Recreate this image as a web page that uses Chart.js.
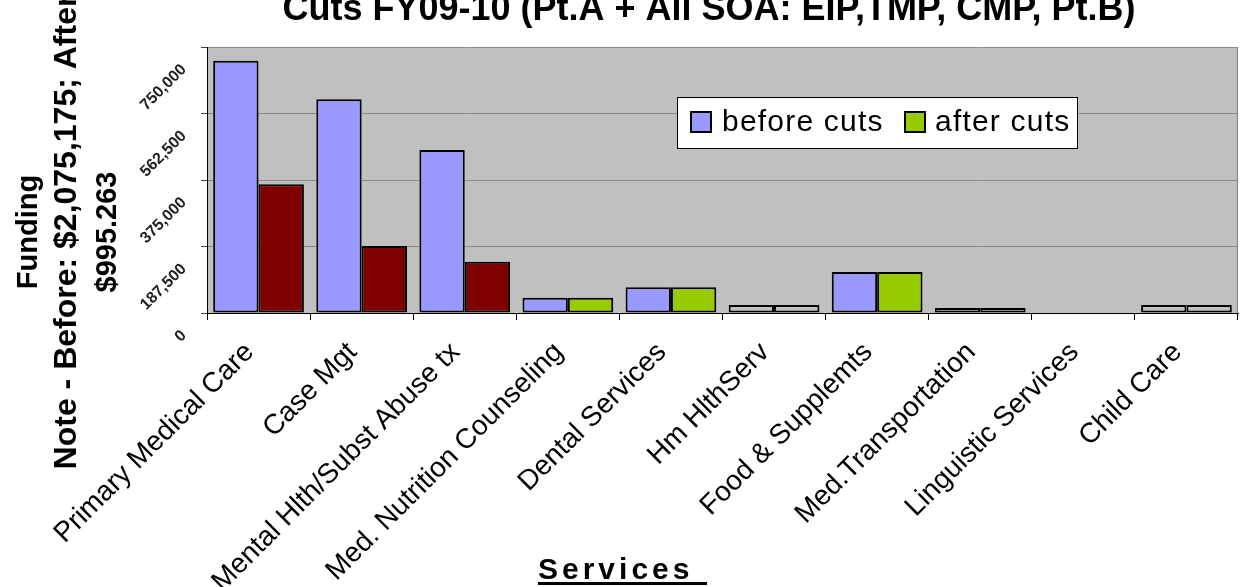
<!DOCTYPE html>
<html>
<head>
<meta charset="utf-8">
<script src="https://cdn.jsdelivr.net/npm/chart.js@4"></script>
<style>
body { margin: 0; background: #fff; }
#wrap { width: 1243px; height: 587px; }
</style>
</head>
<body>
<div id="wrap"><canvas id="fundingChart" width="1243" height="587"></canvas></div>
<script>
// Data
const categories = ['Primary Medical Care', 'Case Mgt', 'Mental Hlth/Subst Abuse tx', 'Med. Nutrition Counseling',
    'Dental Services', 'Hm HlthServ', 'Food & Supplemts', 'Med.Transportation', 'Linguistic Services', 'Child Care'];
const beforeCuts = [711000, 602500, 459600, 43000, 72400, 22500, 115600, 14000, 0, 22500];
const afterCuts = [363000, 189000, 144700, 43000, 72400, 22500, 115600, 14000, 0, 22500];
const beforeColors = ['#9999FF', '#9999FF', '#9999FF', '#9999FF', '#9999FF', '#C0C0C0', '#9999FF', '#C0C0C0', '#9999FF', '#C0C0C0'];
const afterColors = ['#800000', '#800000', '#800000', '#99CC00', '#99CC00', '#C0C0C0', '#99CC00', '#C0C0C0', '#99CC00', '#C0C0C0'];
const yTickLabels = ['0', '187,500', '375,000', '562,500', '750,000'];
const yMax = 750000;
const yStep = 187500;
const chartTitle = 'Cuts FY09-10 (Pt.A + All SOA: EIP,TMP, CMP, Pt.B)';
const yTitleLines = ['Funding', 'Note - Before: $2,075,175; After', '$995.263'];
const xTitle = 'Services';
const legendLabels = ['before cuts', 'after cuts'];
const legendColors = ['#9999FF', '#99CC00'];

const FONT = '"Liberation Sans", Arial, sans-serif';

// Grey plot background + extra text drawn by hand (rotated tick labels, underlined title etc.)
const excelLook = {
    id: 'excelLook',
    beforeDraw(chart) {
        const { ctx, chartArea: a } = chart;
        ctx.save();
        ctx.fillStyle = '#C0C0C0';
        ctx.fillRect(a.left, a.top, a.right - a.left, a.bottom - a.top);
        ctx.restore();
    },
    afterDraw(chart) {
        const { ctx, chartArea: a } = chart;
        const yScale = chart.scales.y;

        // right border of plot area
        ctx.save();
        ctx.strokeStyle = '#808080';
        ctx.lineWidth = 1;
        ctx.beginPath();
        ctx.moveTo(a.right - 0.5, a.top);
        ctx.lineTo(a.right - 0.5, a.bottom);
        ctx.stroke();

        // title (cut off at the top, like the original)
        ctx.fillStyle = '#000';
        ctx.font = 'bold 36px ' + FONT;
        ctx.textAlign = 'center';
        ctx.textBaseline = 'alphabetic';
        ctx.fillText(chartTitle, 709, 20, 908);

        // y tick labels, rotated
        ctx.font = 'bold 16px ' + FONT;
        ctx.fillStyle = '#222';
        ctx.textAlign = 'right';
        ctx.textBaseline = 'middle';
        yScale.ticks.forEach((t, i) => {
            const py = yScale.getPixelForValue(t.value);
            ctx.save();
            ctx.translate(184, py + 20);
            ctx.rotate(-Math.PI / 4);
            ctx.fillText(yTickLabels[i], 0, 0);
            ctx.restore();
        });

        // y axis title, three lines
        const ySizes = [29, 32, 29];
        const yBase = [37, 76, 116];
        ctx.fillStyle = '#000';
        ctx.textAlign = 'center';
        ctx.textBaseline = 'alphabetic';
        yTitleLines.forEach((line, i) => {
            ctx.save();
            ctx.translate(yBase[i], 232);
            ctx.rotate(-Math.PI / 2);
            ctx.font = 'bold ' + ySizes[i] + 'px ' + FONT;
            ctx.fillText(line, 0, 0);
            ctx.restore();
        });

        // x axis title, underlined
        ctx.font = 'bold 30px ' + FONT;
        ctx.letterSpacing = '4px';
        ctx.textAlign = 'left';
        ctx.fillText(xTitle, 538, 579);
        ctx.letterSpacing = '0px';
        ctx.fillRect(538, 582, 169, 3);

        // legend
        ctx.fillStyle = '#fff';
        ctx.fillRect(677, 97, 400, 51);
        ctx.strokeStyle = '#000';
        ctx.strokeRect(677.5, 97.5, 400, 51);
        const swatchX = [691, 905];
        const textX = [722, 935];
        ctx.font = '30px ' + FONT;
        ctx.letterSpacing = '1.2px';
        legendLabels.forEach((label, i) => {
            ctx.fillStyle = legendColors[i];
            ctx.fillRect(swatchX[i], 112, 20, 20);
            ctx.lineWidth = 2;
            ctx.strokeRect(swatchX[i], 112, 20, 20);
            ctx.fillStyle = '#000';
            ctx.fillText(label, textX[i], 131);
        });
        ctx.letterSpacing = '0px';
        ctx.restore();
    }
};

const ctx = document.getElementById('fundingChart').getContext('2d');
const fundingChart = new Chart(ctx, {
    type: 'bar',
    data: {
        labels: categories,
        datasets: [{
            label: legendLabels[0],
            data: beforeCuts,
            backgroundColor: beforeColors,
            borderColor: '#000',
            borderWidth: 2,
            borderSkipped: false
        }, {
            label: legendLabels[1],
            data: afterCuts,
            backgroundColor: afterColors,
            borderColor: '#000',
            borderWidth: 2,
            borderSkipped: false
        }]
    },
    options: {
        responsive: false,
        animation: false,
        layout: { padding: { left: 0, top: 47, right: 5, bottom: 0 } },
        categoryPercentage: 0.88,
        barPercentage: 1.0,
        plugins: {
            legend: { display: false },
            title: { display: false },
            tooltip: { enabled: false }
        },
        scales: {
            x: {
                afterFit: s => { s.height = 274; },
                grid: {
                    display: true,
                    drawOnChartArea: false,
                    drawTicks: true,
                    tickLength: 7,
                    color: '#000',
                    offset: true
                },
                border: { color: '#000', width: 1 },
                ticks: {
                    autoSkip: false,
                    minRotation: 45,
                    maxRotation: 45,
                    padding: 16,
                    labelOffset: -9,
                    color: '#000',
                    font: { family: FONT, size: 28 }
                }
            },
            y: {
                min: 0,
                max: yMax,
                afterFit: s => { s.width = 207; },
                grid: {
                    color: '#8a8a8a',
                    tickColor: '#404040',
                    tickLength: 6,
                    drawTicks: true
                },
                border: { color: '#000', width: 1 },
                ticks: {
                    stepSize: yStep,
                    display: false
                }
            }
        }
    },
    plugins: [excelLook]
});
</script>
</body>
</html>
